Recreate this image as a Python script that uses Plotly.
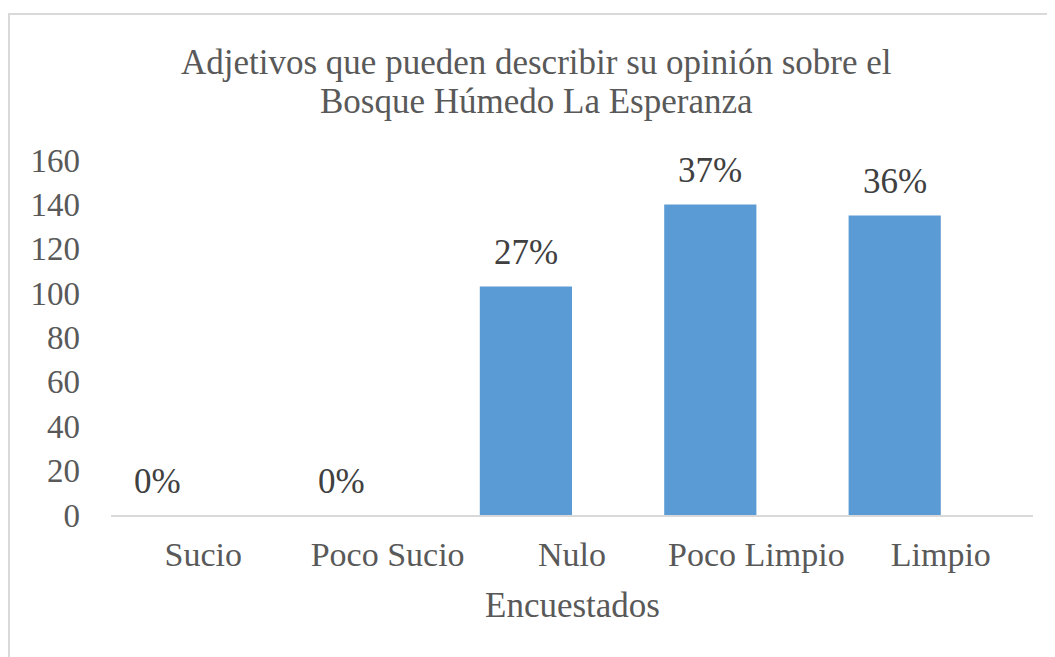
import plotly.graph_objects as go

# respuestas por adjetivo
categorias = ['Sucio', 'Poco Sucio', 'Nulo', 'Poco Limpio', 'Limpio']
encuestados = [0, 0, 103, 140, 135]
porcentajes = ['0%', '0%', '27%', '37%', '36%']
y_ticks = [0, 20, 40, 60, 80, 100, 120, 140, 160]
titulo = ['Adjetivos que pueden describir su opinión sobre el',
          'Bosque Húmedo La Esperanza']

font_family = 'Liberation Serif, Times New Roman, serif'
gris = '#595959'

fig = go.Figure()
# las barras quedan a la izquierda del centro de cada categoria
fig.add_trace(
    go.Bar(
        x=categorias,
        y=encuestados,
        width=0.5,
        offset=-0.5,
        marker={'color': '#5B9BD5', 'line': {'width': 0}},
        hoverinfo='x+y'
    )
)

# etiquetas de datos sobre cada barra
for i, (val, pct) in enumerate(zip(encuestados, porcentajes)):
    fig.add_annotation(
        x=i - 0.25, y=val, text=pct, showarrow=False,
        yanchor='bottom', yshift=12,
        font={'family': font_family, 'size': 35, 'color': '#404040'}
    )

# titulo en dos lineas
for linea, ypos in zip(titulo, [1.276, 1.166]):
    fig.add_annotation(
        xref='paper', yref='paper', x=0.462, y=ypos,
        xanchor='center', yanchor='middle', showarrow=False,
        text=linea,
        font={'family': font_family, 'size': 35, 'color': gris}
    )

# titulo del eje x
fig.add_annotation(
    xref='paper', yref='paper', x=0.5, y=-0.254,
    xanchor='center', yanchor='middle', showarrow=False,
    text='Encuestados',
    font={'family': font_family, 'size': 35, 'color': gris}
)

fig.update_layout(
    width=1047,
    height=649,
    paper_bgcolor='white',
    plot_bgcolor='white',
    showlegend=False,
    font={'family': font_family, 'size': 34, 'color': gris},
    margin={'l': 103, 'r': 22, 't': 152, 'b': 142},
    xaxis={
        'showline': True,
        'linecolor': '#D9D9D9',
        'linewidth': 2,
        'ticks': '',
        'showgrid': False,
        'range': [-0.5, 4.5],
        'ticklabelstandoff': 8,
        'tickfont': {'family': font_family, 'size': 34, 'color': gris}
    },
    yaxis={
        'range': [0, 160],
        'tickvals': y_ticks,
        'showgrid': False,
        'zeroline': False,
        'showline': False,
        'ticks': '',
        'ticklabelstandoff': 30,
        'tickfont': {'family': font_family, 'size': 33, 'color': gris}
    },
    shapes=[
        {
            'type': 'rect', 'xref': 'paper', 'yref': 'paper',
            'x0': -0.1106, 'x1': 1.1, 'y0': -0.6, 'y1': 1.411,
            'line': {'color': '#D9D9D9', 'width': 2},
            'fillcolor': 'rgba(0,0,0,0)',
            'layer': 'below'
        }
    ]
)

fig.write_html('out.html')
